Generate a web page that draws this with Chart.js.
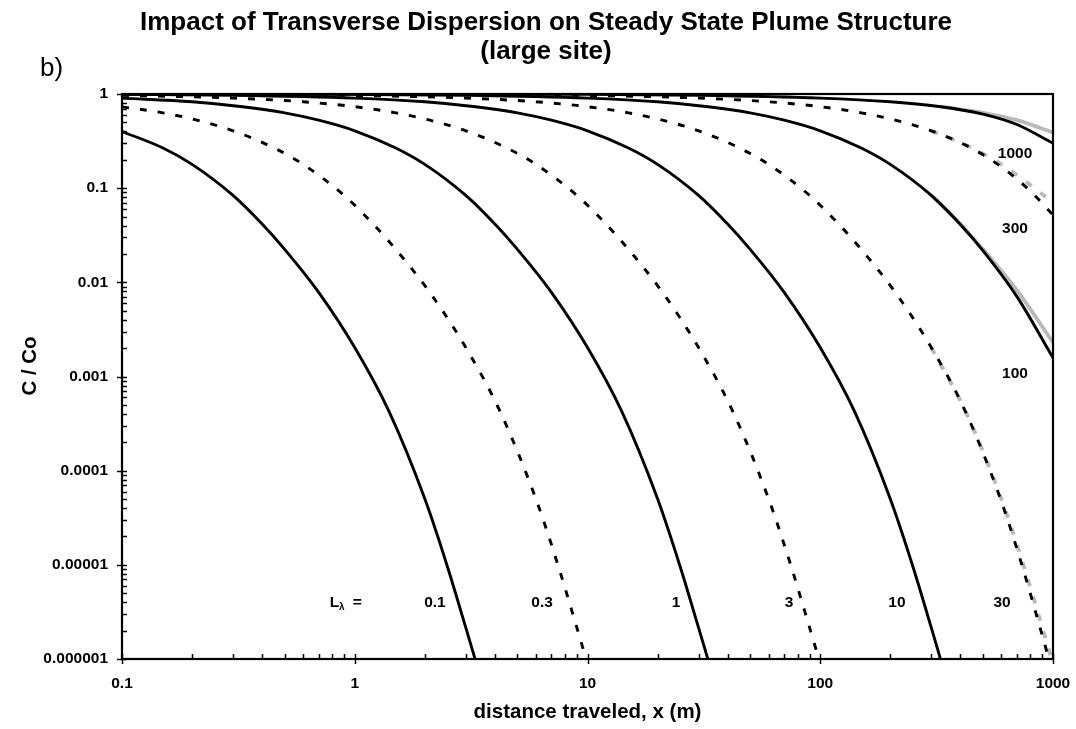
<!DOCTYPE html>
<html>
<head>
<meta charset="utf-8">
<title>Transverse dispersion - large site</title>
<script src="https://cdn.jsdelivr.net/npm/chart.js@4.4.1/dist/chart.umd.min.js"></script>
<style>
  html, body { margin: 0; padding: 0; background: #fff; }
  #wrap { width: 1076px; height: 729px; }
</style>
</head>
<body>
<div id="wrap"><canvas id="plumeChart" width="1076" height="729"></canvas></div>
<script>
/////////////////////////////////////////////data
// tick labels
var xTickLabels = ['0.1', '1', '10', '100', '1000'];
var yTickLabels = ['0.000001', '0.00001', '0.0001', '0.001', '0.01', '0.1', '1'];

// L = 0.1 (solid)
var x_L0_1 = [0.1, 0.15, 0.2, 0.3, 0.4, 0.5, 0.7, 1, 1.4, 2, 2.5, 3, 3.3];
var c_L0_1 = [0.40, 0.267, 0.179, 0.0838, 0.0416, 0.0224, 0.00783, 0.00203, 4.31e-4, 5.02e-5, 9.6e-6, 2.15e-6, 9.7e-7];

// L = 0.3 (dashed)
var x_L0_3 = [0.1, 0.15, 0.21, 0.3, 0.45, 0.6, 0.9, 1.2, 1.5, 2.1, 3, 4.2, 6, 7.5, 9, 9.9];
var c_L0_3 = [0.73, 0.631, 0.527, 0.407, 0.267, 0.179, 0.0838, 0.0416, 0.0224, 0.00783, 0.00203, 4.31e-4, 5.02e-5, 9.6e-6, 2.15e-6, 9.7e-7];

// L = 1 (solid)
var x_L1 = [0.1, 0.2, 0.33, 0.5, 0.7, 1, 1.5, 2, 3, 4, 5, 7, 10, 14, 20, 25, 30, 33];
var c_L1 = [0.905, 0.827, 0.733, 0.631, 0.527, 0.407, 0.267, 0.179, 0.0838, 0.0416, 0.0224, 0.00783, 0.00203, 4.31e-4, 5.02e-5, 9.6e-6, 2.15e-6, 9.7e-7];

// L = 3 (dashed)
var x_L3 = [0.1, 0.3, 0.6, 1, 1.5, 2.1, 3, 4.5, 6, 9, 12, 15, 21, 30, 42, 60, 75, 90, 99];
var c_L3 = [0.967, 0.905, 0.827, 0.733, 0.631, 0.527, 0.407, 0.267, 0.179, 0.0838, 0.0416, 0.0224, 0.00783, 0.00203, 4.31e-4, 5.02e-5, 9.6e-6, 2.15e-6, 9.7e-7];

// L = 10 (solid)
var x_L10 = [0.1, 0.3, 1, 2, 3.3, 5, 7, 10, 15, 20, 30, 40, 50, 70, 100, 140, 200, 250, 300, 330];
var c_L10 = [0.99, 0.97, 0.905, 0.827, 0.733, 0.631, 0.527, 0.407, 0.267, 0.179, 0.0838, 0.0416, 0.0224, 0.00783, 0.00203, 4.31e-4, 5.0e-5, 9.6e-6, 2.15e-6, 9.6e-7];

// L = 30 (dashed)
var x_L30 = [0.1, 0.3, 0.9, 3, 6, 10, 15, 21, 30, 45, 60, 90, 120, 150, 210, 300, 420, 600, 750, 900, 990];
var c_L30 = [0.997, 0.99, 0.97, 0.905, 0.827, 0.733, 0.631, 0.527, 0.407, 0.267, 0.179, 0.0838, 0.0416, 0.0224, 0.00783, 0.00203, 4.27e-4, 4.72e-5, 8.45e-6, 1.76e-6, 7.6e-7];

// L = 100 (solid)
var x_L100 = [0.1, 1, 3, 10, 20, 33, 50, 70, 100, 150, 200, 300, 400, 500, 700, 1000];
var c_L100 = [0.999, 0.99, 0.97, 0.905, 0.827, 0.733, 0.631, 0.527, 0.407, 0.267, 0.179, 0.0838, 0.0412, 0.0217, 0.00705, 0.00158];

// L = 300 (dashed)
var x_L300 = [0.1, 3, 9, 30, 60, 100, 150, 210, 300, 450, 600, 800, 1000];
var c_L300 = [1.0, 0.99, 0.97, 0.905, 0.827, 0.733, 0.631, 0.527, 0.407, 0.263, 0.168, 0.093, 0.0519];

// L = 1000 (solid)
var x_L1000 = [0.1, 10, 30, 100, 200, 330, 500, 700, 1000];
var c_L1000 = [1.0, 0.99, 0.97, 0.905, 0.827, 0.733, 0.612, 0.474, 0.30];

// grey curves, only where they come apart from the black ones
var xg_L30 = [300, 420, 600, 750, 900, 990];
var cg_L30 = [0.00203, 4.31e-4, 5.02e-5, 9.6e-6, 2.15e-6, 9.7e-7];
var xg_L100 = [300, 400, 500, 700, 1000];
var cg_L100 = [0.0838, 0.0416, 0.0224, 0.0082, 0.0023];
var xg_L300 = [300, 450, 600, 800, 1000];
var cg_L300 = [0.407, 0.267, 0.179, 0.108, 0.07];
var xg_L1000 = [330, 500, 700, 1000];
var cg_L1000 = [0.733, 0.631, 0.527, 0.39];
/////////////////////////////////////////////data

var FONT = "Arial, 'Liberation Sans', Helvetica, sans-serif";

function pts(xs, ys) {
    return xs.map(function(x, i) { return { x: x, y: ys[i] }; });
}

function curve(xs, ys, dashed) {
    return {
        data: pts(xs, ys),
        borderColor: '#000',
        borderWidth: 2.9,
        borderDash: dashed ? [7, 11] : [],
        order: 0
    };
}

function greyCurve(xs, ys, dashed) {
    return {
        data: pts(xs, ys),
        borderColor: '#b9b9b9',
        borderWidth: 3.8,
        borderDash: dashed ? [7, 11] : [],
        order: 1
    };
}

var datasets = [
    curve(x_L0_1, c_L0_1, false),
    curve(x_L0_3, c_L0_3, true),
    curve(x_L1, c_L1, false),
    curve(x_L3, c_L3, true),
    curve(x_L10, c_L10, false),
    curve(x_L30, c_L30, true),
    curve(x_L100, c_L100, false),
    curve(x_L300, c_L300, true),
    curve(x_L1000, c_L1000, false),
    greyCurve(xg_L30, cg_L30, true),
    greyCurve(xg_L100, cg_L100, false),
    greyCurve(xg_L300, cg_L300, true),
    greyCurve(xg_L1000, cg_L1000, false)
];

function isDecade(v) {
    var l = Math.log10(v);
    return Math.abs(l - Math.round(l)) < 1e-6;
}

// only label the powers of ten
function decadeLabel(labels, minExp) {
    return function(value) {
        if (!isDecade(value)) return null;
        return labels[Math.round(Math.log10(value)) - minExp];
    };
}

// 1..9 x 10^n between the axis limits
function logTickValues(scale) {
    var out = [];
    var e0 = Math.round(Math.log10(scale.min)), e1 = Math.round(Math.log10(scale.max));
    for (var e = e0; e <= e1; e++) {
        for (var m = 1; m <= 9; m++) {
            if (e === e1 && m > 1) break;
            out.push({ value: m * Math.pow(10, e), major: m === 1 });
        }
    }
    return out;
}

// curve names written inside the plot, placed in data units
var curveNotes = [
    { text: '1000', x: 687, y: 0.209 },
    { text: '300', x: 687, y: 0.0334 },
    { text: '100', x: 687, y: 9.6e-4 },
    { text: '0.1', x: 2.21, y: 3.6e-6 },
    { text: '0.3', x: 6.38, y: 3.6e-6 },
    { text: '1', x: 24.0, y: 3.6e-6 },
    { text: '3', x: 73.4, y: 3.6e-6 },
    { text: '10', x: 213.6, y: 3.6e-6 },
    { text: '30', x: 604, y: 3.6e-6 }
];

// frame, tick marks and all the free text
var decorations = {
    id: 'decorations',
    afterDatasetsDraw: function(chart) {
        var ctx = chart.ctx, a = chart.chartArea;
        var xs = chart.scales.x, ys = chart.scales.y;
        ctx.save();
        ctx.strokeStyle = '#000';
        ctx.lineWidth = 1.5;
        logTickValues(xs).forEach(function(t) {
            var px = Math.round(xs.getPixelForValue(t.value)) + 0.5;
            ctx.beginPath();
            ctx.moveTo(px, a.bottom - 5);
            ctx.lineTo(px, t.major ? a.bottom + 5 : a.bottom);
            ctx.stroke();
        });
        logTickValues(ys).forEach(function(t) {
            var py = Math.round(ys.getPixelForValue(t.value)) + 0.5;
            ctx.beginPath();
            ctx.moveTo(t.major ? a.left - 5 : a.left, py);
            ctx.lineTo(a.left + 5, py);
            ctx.stroke();
        });
        ctx.lineWidth = 2.2;
        ctx.strokeRect(a.left, a.top, a.right - a.left, a.bottom - a.top);

        // curve names
        ctx.fillStyle = '#000';
        ctx.font = 'bold 15.5px ' + FONT;
        ctx.textAlign = 'center';
        ctx.textBaseline = 'alphabetic';
        curveNotes.forEach(function(n) {
            ctx.fillText(n.text, xs.getPixelForValue(n.x), ys.getPixelForValue(n.y));
        });
        // L with subscript lambda
        var lx = xs.getPixelForValue(0.78), ly = ys.getPixelForValue(3.6e-6);
        ctx.textAlign = 'left';
        ctx.fillText('L', lx, ly);
        var lw = ctx.measureText('L').width;
        ctx.font = 'bold 10px ' + FONT;
        ctx.fillText('\u03bb', lx + lw, ly + 3);
        ctx.font = 'bold 15.5px ' + FONT;
        ctx.fillText('=', lx + 23, ly);
        ctx.restore();
    },
    afterDraw: function(chart) {
        var ctx = chart.ctx, a = chart.chartArea;
        ctx.save();
        ctx.fillStyle = '#000';
        ctx.textBaseline = 'alphabetic';
        ctx.textAlign = 'center';
        ctx.font = 'bold 26px ' + FONT;
        ctx.fillText('Impact of Transverse Dispersion on Steady State Plume Structure', 546, 30);
        ctx.fillText('(large site)', 546, 59);
        ctx.textAlign = 'left';
        ctx.font = '26px ' + FONT;
        ctx.fillText('b)', 40, 76);
        ctx.textAlign = 'center';
        ctx.font = 'bold 20.5px ' + FONT;
        ctx.fillText('distance traveled, x (m)', (a.left + a.right) / 2, 718);
        ctx.translate(36, 366);
        ctx.rotate(-Math.PI / 2);
        ctx.fillText('C / Co', 0, 0);
        ctx.restore();
    }
};

var ctx = document.getElementById('plumeChart').getContext('2d');
new Chart(ctx, {
    type: 'line',
    data: { datasets: datasets },
    options: {
        responsive: false,
        animation: false,
        layout: { padding: { top: 94, right: 23, left: 0, bottom: 0 } },
        elements: {
            point: { radius: 0, hoverRadius: 0 },
            line: { cubicInterpolationMode: 'monotone', fill: false }
        },
        plugins: {
            legend: { display: false },
            tooltip: { enabled: false },
            title: { display: false }
        },
        scales: {
            x: {
                type: 'logarithmic',
                min: 0.1,
                max: 1000,
                border: { display: false },
                grid: { drawOnChartArea: false, tickLength: 12, tickColor: 'rgba(0,0,0,0)' },
                ticks: {
                    autoSkip: false,
                    maxRotation: 0,
                    padding: 3,
                    color: '#000',
                    font: { family: FONT, size: 15.5, weight: 'bold' },
                    callback: decadeLabel(xTickLabels, -1)
                },
                afterFit: function(s) { s.height = 70; }
            },
            y: {
                type: 'logarithmic',
                min: 0.000001,
                max: 1,
                border: { display: false },
                grid: { drawOnChartArea: false, tickLength: 6, tickColor: 'rgba(0,0,0,0)' },
                ticks: {
                    autoSkip: false,
                    padding: 8,
                    color: '#000',
                    font: { family: FONT, size: 15.5, weight: 'bold' },
                    callback: decadeLabel(yTickLabels, -6)
                },
                afterFit: function(s) { s.width = 122; }
            }
        }
    },
    plugins: [decorations]
});
</script>
</body>
</html>
